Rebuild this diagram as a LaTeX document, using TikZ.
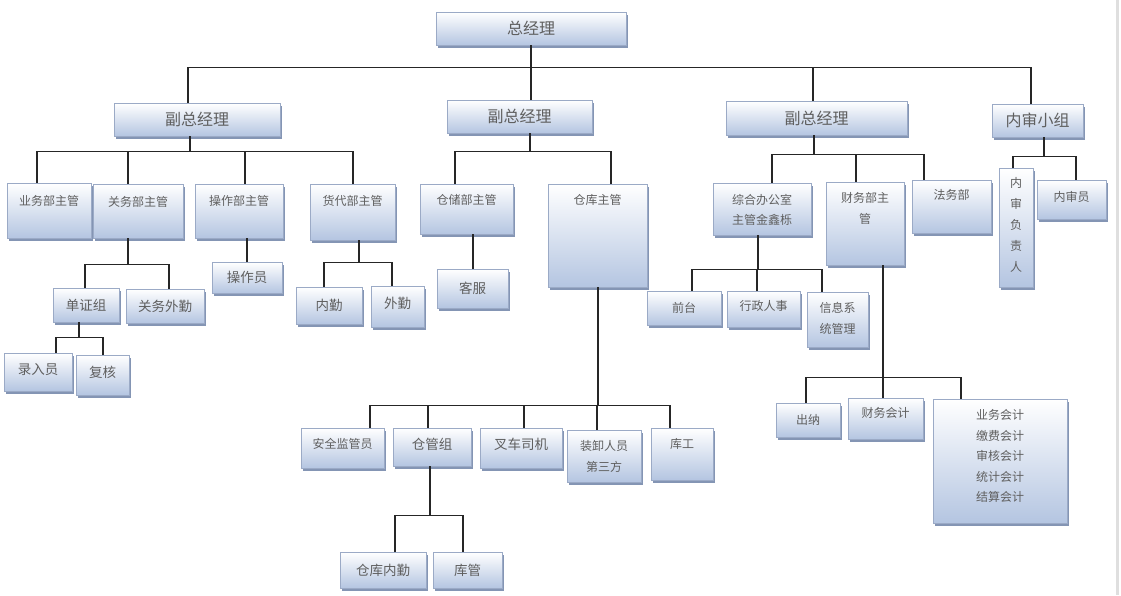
\documentclass[tikz,border=0pt]{standalone}
\usepackage{fontspec}
\setmainfont{Noto Sans CJK SC}
\usetikzlibrary{positioning, calc, shadows}
\definecolor{boxblue}{RGB}{180,197,225}
\definecolor{boxline}{RGB}{155,170,198}
\definecolor{boxshadow}{RGB}{132,149,180}
\definecolor{txtgray}{RGB}{95,95,95}
\tikzset{
	box/.style={draw=boxline, top color=white, bottom color=boxblue, anchor=north west,
		align=center, inner sep=0pt, text=txtgray, font=\fontsize{12}{20.5}\selectfont,
		drop shadow={shadow xshift=2pt, shadow yshift=-3pt, fill=boxshadow, opacity=1}},
	sz/.style 2 args={minimum width=#1, minimum height=#2},
	toptext/.style 2 args={text height=#1, text depth=#2-#1},
	big/.style={font=\fontsize{16}{19}\selectfont},
	mid/.style={font=\fontsize{13.5}{16}\selectfont},
	link/.style={line width=1.8pt, black!85},
}
\begin{document}
\begin{tikzpicture}[x=1pt, y=-1pt]
	\useasboundingbox (0,0) rectangle (1121,595);
	\draw[gray!25, line width=3pt] (1117,0) -- (1117,595);

	% top levels
	\node[box, big, sz={190}{33}] (zjl) at (436,12) {总经理};
	\node[box, big, sz={166}{33}] (fz1) at (114,103) {副总经理};
	\node[box, big, sz={145}{33}] (fz2) at (447,100) {副总经理};
	\node[box, big, sz={181}{34}] (fz3) at (726,101) {副总经理};
	\node[box, big, sz={91}{33}] (nsxz) at (992,104) {内审小组};

	% departments
	\node[box, sz={84}{55}, toptext={22}{55}] (ywb) at (7,183) {业务部主管};
	\node[box, sz={90}{54}, toptext={22}{54}] (gwb) at (93,184) {关务部主管};
	\node[box, sz={88}{54}, toptext={21}{54}] (czb) at (195,184) {操作部主管};
	\node[box, sz={85}{56}, toptext={21.5}{56}] (hdb) at (310,184) {货代部主管};
	\node[box, sz={93}{50}, toptext={20.5}{50}] (ccb) at (420,184) {仓储部主管};
	\node[box, sz={99}{103}, toptext={20.5}{103}] (ckzg) at (548,184) {仓库主管};
	\node[box, sz={98}{52}, toptext={41.5}{52}] (zhb) at (713,183) {综合办公室\\主管金鑫栎};
	\node[box, sz={78}{83}, toptext={41}{83}] (cwb) at (826,182) {财务部主\\管};
	\node[box, sz={79}{53}, toptext={19.5}{53}] (fwb) at (912,180) {法务部};
	\node[box, sz={34}{119}, toptext={103.5}{119}, font=\fontsize{12}{21}\selectfont] (nsfz) at (999,168) {内\\审\\负\\责\\人};
	\node[box, sz={69}{39}, toptext={21.5}{39}] (nsy) at (1037,180) {内审员};

	% groups
	\node[box, mid, sz={66}{34}] (dzz) at (53,288) {单证组};
	\node[box, mid, sz={78}{34}] (gwwq) at (126,289) {关务外勤};
	\node[box, mid, sz={68}{38}, toptext={21.3}{38}] (lry) at (4,353) {录入员};
	\node[box, mid, sz={53}{40}, toptext={22.3}{40}] (fh) at (76,355) {复核};
	\node[box, mid, sz={70}{31}] (czy) at (212,262) {操作员};
	\node[box, mid, sz={66}{37}] (nq) at (296,287) {内勤};
	\node[box, mid, sz={53}{41}, toptext={22.3}{41}] (wq) at (371,286) {外勤};
	\node[box, mid, sz={71}{39}] (kf) at (437,269) {客服};

	% warehouse staff
	\node[box, sz={83}{40}, toptext={20.5}{40}] (aqjg) at (301,428) {安全监管员};
	\node[box, mid, sz={78}{38}, toptext={21.3}{38}] (cgz) at (393,428) {仓管组};
	\node[box, mid, sz={82}{40}, toptext={21.3}{40}] (ccsj) at (480,428) {叉车司机};
	\node[box, sz={74}{52}, toptext={41}{52}] (zxry) at (567,430) {装卸人员\\第三方};
	\node[box, sz={62}{52}, toptext={20.5}{52}] (kg) at (651,428) {库工};
	\node[box, mid, sz={86}{36}] (ckqn) at (340,552) {仓库内勤};
	\node[box, mid, sz={69}{36}] (kgu) at (433,552) {库管};

	% office and finance
	\node[box, sz={74}{34}] (qt) at (647,291) {前台};
	\node[box, sz={73}{36}, toptext={19.5}{36}] (xzrs) at (727,291) {行政人事};
	\node[box, sz={61}{55}, toptext={41}{55}] (xxxt) at (807,292) {信息系\\统管理};
	\node[box, sz={64}{34}] (cn) at (776,403) {出纳};
	\node[box, sz={75}{41}, toptext={19.5}{41}] (cwkj) at (848,398) {财务会计};
	\node[box, sz={134}{124}, toptext={102.5}{124}] (ywkj) at (933,399) {业务会计\\缴费会计\\审核会计\\统计会计\\结算会计};

	% connectors
	\draw[link] (zjl.south) -- ++(0,22) coordinate (b0);
	\foreach \n/\d in {fz1/-9, fz2/11, fz3/-4, nsxz/-7}
		\draw[link] (b0) -| ($(\n.north)+(\d,0)$);

	\draw[link] ($(fz1.south)+(-7,0)$) -- ++(0,15) coordinate (b1);
	\foreach \n/\d in {ywb/-12, gwb/-10, czb/6, hdb/0}
		\draw[link] (b1) -| ($(\n.north)+(\d,0)$);

	\draw[link] ($(fz2.south)+(10,0)$) -- ++(0,18) coordinate (b2);
	\foreach \n/\d in {ccb/-11.5, ckzg/13.5}
		\draw[link] (b2) -| ($(\n.north)+(\d,0)$);

	\draw[link] ($(fz3.south)+(-3,0)$) -- ++(0,19) coordinate (b3);
	\foreach \n/\d in {zhb/10, cwb/-9, fwb/-27.5}
		\draw[link] (b3) -| ($(\n.north)+(\d,0)$);

	\draw[link] ($(nsxz.south)+(6.5,0)$) -- ++(0,19) coordinate (b4);
	\foreach \n/\d in {nsfz/-3, nsy/4.5}
		\draw[link] (b4) -| ($(\n.north)+(\d,0)$);

	\draw[link] ($(gwb.south)+(-10,0)$) -- ++(0,26) coordinate (b5);
	\foreach \n/\d in {dzz/-1, gwwq/4}
		\draw[link] (b5) -| ($(\n.north)+(\d,0)$);

	\draw[link] ($(dzz.south)+(-7,0)$) -- ++(0,15) coordinate (b6);
	\foreach \n/\d in {lry/18, fh/0}
		\draw[link] (b6) -| ($(\n.north)+(\d,0)$);

	\draw[link] (czy.north) -- (czy.north |- czb.south);
	\draw[link] (kf.north) -- (kf.north |- ccb.south);

	\draw[link] ($(hdb.south)+(6,0)$) -- ++(0,22) coordinate (b7);
	\foreach \n/\d in {nq/-5, wq/-5.5}
		\draw[link] (b7) -| ($(\n.north)+(\d,0)$);

	\draw[link] (ckzg.south) -- ++(0,118) coordinate (b8);
	\foreach \n/\d in {aqjg/27.5, cgz/-4, ccsj/3, zxry/-7, kg/-12}
		\draw[link] (b8) -| ($(\n.north)+(\d,0)$);

	\draw[link] ($(cgz.south)+(-2,0)$) -- ++(0,49) coordinate (b9);
	\foreach \n/\d in {ckqn/12, kgu/-5}
		\draw[link] (b9) -| ($(\n.north)+(\d,0)$);

	\draw[link] ($(zhb.south)+(-4.5,0)$) -- ++(0,34) coordinate (b10);
	\foreach \n/\d in {qt/8, xzrs/-6.5, xxxt/-15.5}
		\draw[link] (b10) -| ($(\n.north)+(\d,0)$);

	\draw[link] ($(cwb.south)+(17.5,0)$) -- ++(0,112) coordinate (b11);
	\foreach \n/\d in {cn/-2, cwkj/-3, ywkj/-39}
		\draw[link] (b11) -| ($(\n.north)+(\d,0)$);
\end{tikzpicture}
\end{document}
